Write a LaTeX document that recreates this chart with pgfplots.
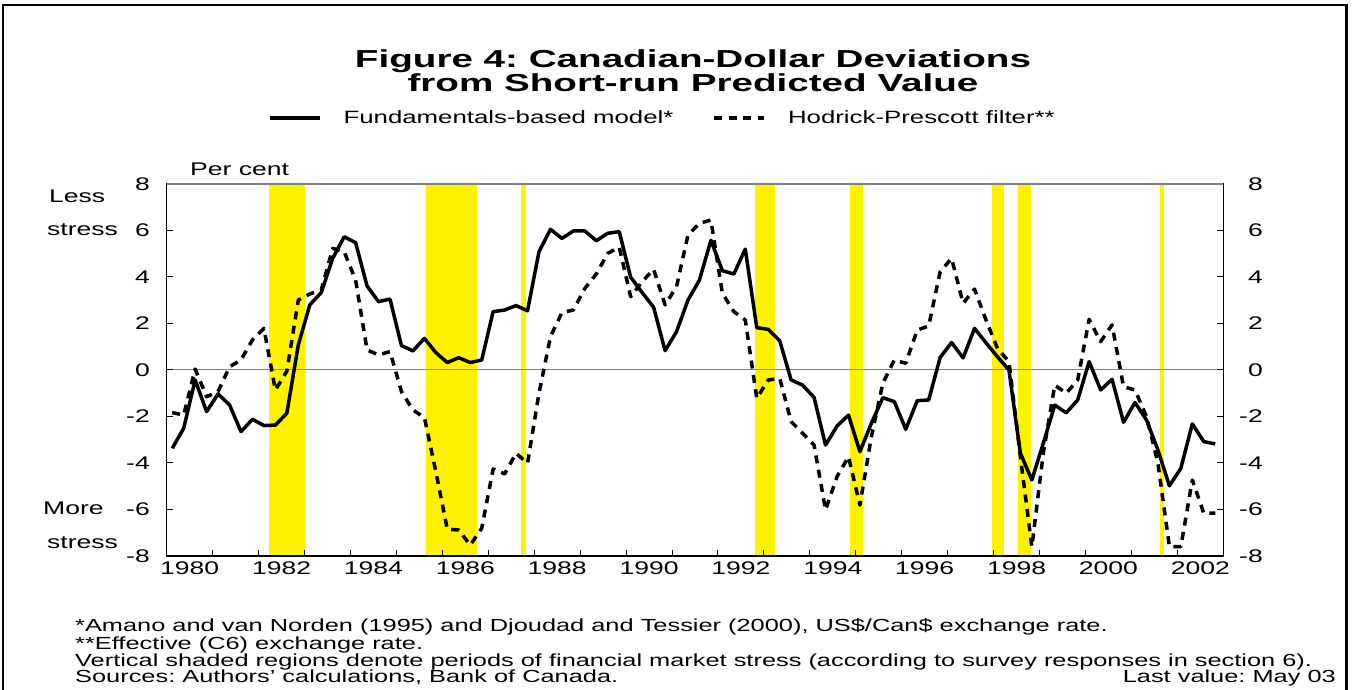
\documentclass[border=0pt]{standalone}
\usepackage{fontspec}
\setmainfont{Liberation Sans}[FakeStretch=1.45]
\newfontfamily\titlefont{Liberation Sans}[FakeStretch=1.57]
\usepackage{pgfplots}
\usepackage{pgfplotstable}
\pgfplotsset{compat=1.18}
\newcommand\ticksize{\fontsize{18.3}{20}\selectfont}
\newcommand\legsize{\fontsize{17.8}{20}\selectfont}
\newcommand\notesize{\fontsize{17.5}{17}\selectfont}
\newcommand\titlesize{\titlefont\fontsize{24.6}{22}\selectfont\bfseries}
\frenchspacing

\pgfplotstableread{
x f h
1980.120 -3.37 -1.83
1980.370 -2.51 -1.94
1980.619 -0.43 0.04
1980.869 -1.79 -1.15
1981.118 -1.03 -0.93
1981.368 -1.50 0.14
1981.617 -2.65 0.43
1981.867 -2.12 1.30
1982.116 -2.39 1.79
1982.366 -2.37 -0.86
1982.615 -1.86 -0.05
1982.865 1.08 3.01
1983.114 2.80 3.27
1983.364 3.33 3.44
1983.613 4.80 5.23
1983.863 5.73 5.09
1984.112 5.48 3.87
1984.362 3.61 0.86
1984.611 2.94 0.65
1984.861 3.05 0.79
1985.110 1.05 -0.93
1985.360 0.82 -1.72
1985.609 1.36 -2.04
1985.859 0.75 -4.37
1986.108 0.32 -6.85
1986.358 0.53 -6.88
1986.607 0.32 -7.53
1986.857 0.43 -6.81
1987.106 2.51 -4.26
1987.356 2.58 -4.47
1987.605 2.77 -3.58
1987.855 2.55 -4.01
1988.104 5.09 -1.00
1988.354 6.05 1.43
1988.603 5.66 2.47
1988.853 5.98 2.58
1989.102 5.98 3.51
1989.352 5.56 4.13
1989.601 5.88 5.02
1989.851 5.95 5.28
1990.100 3.99 3.15
1990.350 3.33 3.80
1990.599 2.70 4.33
1990.849 0.83 2.80
1991.098 1.65 3.58
1991.348 3.01 5.81
1991.597 3.87 6.31
1991.847 5.58 6.45
1992.096 4.27 3.30
1992.346 4.13 2.51
1992.595 5.20 2.15
1992.845 1.82 -1.22
1993.094 1.75 -0.43
1993.344 1.26 -0.36
1993.593 -0.43 -2.22
1993.843 -0.65 -2.72
1994.092 -1.18 -3.23
1994.342 -3.23 -6.02
1994.591 -2.41 -4.59
1994.841 -1.94 -3.73
1995.090 -3.51 -5.81
1995.340 -2.29 -2.87
1995.589 -1.19 -0.57
1995.839 -1.36 0.43
1996.088 -2.55 0.29
1996.338 -1.32 1.72
1996.587 -1.29 1.89
1996.837 0.54 4.23
1997.086 1.18 4.80
1997.336 0.52 2.87
1997.585 1.79 3.48
1997.835 1.17 2.15
1998.084 0.57 0.93
1998.334 0.00 0.36
1998.583 -3.58 -3.73
1998.833 -4.73 -7.60
1999.082 -3.15 -3.58
1999.332 -1.51 -0.65
1999.581 -1.84 -1.00
1999.831 -1.29 -0.43
2000.080 0.36 2.18
2000.330 -0.86 1.22
2000.579 -0.40 1.94
2000.829 -2.25 -0.72
2001.078 -1.40 -0.86
2001.328 -2.15 -2.00
2001.577 -3.44 -4.00
2001.827 -4.98 -7.60
2002.076 -4.23 -7.60
2002.326 -2.32 -4.73
2002.575 -3.08 -6.16
2002.825 -3.18 -6.16
}\datatable

\begin{document}
\begin{tikzpicture}[x=1pt,y=1pt]
\path[use as bounding box] (0,0) rectangle (1354,690);
\draw[line width=2.3pt] (2.8,-5) rectangle (1346.5,684.7);

\begin{axis}[
  name=main,
  at={(166.7pt,134pt)}, anchor=south west,
  width=1056.6pt, height=372pt, scale only axis,
  xmin=1980, xmax=2003, ymin=-8, ymax=8,
  axis on top,
  axis line style={line width=1.2pt, black},
  tick style={line width=1pt, black},
  tick align=inside, major tick length=6pt,
  xtick pos=bottom,
  xtick={1981,1982,1983,1984,1985,1986,1987,1988,1989,1990,1991,1992,1993,1994,1995,1996,1997,1998,1999,2000,2001,2002},
  xticklabels={},
  extra x ticks={1980.5,1982.5,1984.5,1986.5,1988.5,1990.5,1992.5,1994.5,1996.5,1998.5,2000.5,2002.5},
  extra x tick labels={1980,1982,1984,1986,1988,1990,1992,1994,1996,1998,2000,2002},
  extra x tick style={major tick length=0pt},
  xticklabel style={font=\ticksize, inner sep=0pt, yshift=-5.7pt},
  ytick={-8,-6,-4,-2,0,2,4,6,8},
  yticklabels={-8,-6,-4,-2,0,2,4,6,8},
  yticklabel style={font=\ticksize, inner sep=0pt, xshift=-16.7pt},
  legend columns=2,
  legend style={at={(0.059,1.1774)}, anchor=west, draw=none, fill=none,
    inner sep=0pt, outer sep=0pt, font=\legsize, column sep=0pt, row sep=0pt,
    nodes={inner sep=0pt, anchor=west}},
  legend image code/.code={\path (-39pt,0pt) (72pt,0pt); \draw[#1] (0pt,0pt) -- (50pt,0pt);},
]
% shaded stress periods
\addplot[fill=yellow, draw=none, forget plot] coordinates {(1982.23,-8) (1982.23,8) (1983.00,8) (1983.00,-8)};
\addplot[fill=yellow, draw=none, forget plot] coordinates {(1985.65,-8) (1985.65,8) (1986.75,8) (1986.75,-8)};
\addplot[fill=yellow, draw=none, forget plot] coordinates {(1987.72,-8) (1987.72,8) (1987.83,8) (1987.83,-8)};
\addplot[fill=yellow, draw=none, forget plot] coordinates {(1992.80,-8) (1992.80,8) (1993.25,8) (1993.25,-8)};
\addplot[fill=yellow, draw=none, forget plot] coordinates {(1994.88,-8) (1994.88,8) (1995.16,8) (1995.16,-8)};
\addplot[fill=yellow, draw=none, forget plot] coordinates {(1997.97,-8) (1997.97,8) (1998.23,8) (1998.23,-8)};
\addplot[fill=yellow, draw=none, forget plot] coordinates {(1998.53,-8) (1998.53,8) (1998.81,8) (1998.81,-8)};
\addplot[fill=yellow, draw=none, forget plot] coordinates {(2001.62,-8) (2001.62,8) (2001.72,8) (2001.72,-8)};
% zero line
\addplot[gray, line width=1pt, forget plot] coordinates {(1980,0) (2003,0)};
% series
\addplot[black, line width=3.5pt, line join=round] table[x=x, y=f] {\datatable};
\addlegendentry{Fundamentals-based model*}
\addplot[black, line width=3.5pt, dash pattern=on 8pt off 6.5pt, line join=round] table[x=x, y=h] {\datatable};
\addlegendentry{Hodrick-Prescott filter**}
\end{axis}

\begin{axis}[
  at={(166.7pt,134pt)}, anchor=south west,
  width=1056.6pt, height=372pt, scale only axis,
  xmin=1980, xmax=2003, ymin=-8, ymax=8,
  axis x line=none, axis y line*=right,
  axis line style={draw=none},
  major tick length=0pt,
  ytick={-8,-6,-4,-2,0,2,4,6,8},
  yticklabels={-8,-6,-4,-2,0,2,4,6,8},
  yticklabel style={font=\ticksize, inner sep=0pt, anchor=east, xshift=39.7pt},
]
\addplot[draw=none] coordinates {(1990,0)};
\end{axis}

\draw[gray, line width=1.4pt] (main.north west) -- (main.north east);

% titles and labels
\node[anchor=base, inner sep=0pt, font=\titlesize] at (693,622.3) {Figure 4: Canadian-Dollar Deviations};
\node[anchor=base, inner sep=0pt, font=\titlesize] at (693,598.3) {from Short-run Predicted Value};
\node[anchor=base west, inner sep=0pt, font=\ticksize] at (190,514) {Per cent};
\node[anchor=base west, inner sep=0pt, font=\ticksize] at (49,487.5) {Less};
\node[anchor=base west, inner sep=0pt, font=\ticksize] at (47,454) {stress};
\node[anchor=base west, inner sep=0pt, font=\ticksize] at (43,175) {More};
\node[anchor=base west, inner sep=0pt, font=\ticksize] at (47,141) {stress};
% notes
\node[anchor=base west, inner sep=0pt, font=\notesize] at (75,58) {*Amano and van Norden (1995) and Djoudad and Tessier (2000), US\$/Can\$ exchange rate.};
\node[anchor=base west, inner sep=0pt, font=\notesize] at (75,40.5) {**Effective (C6) exchange rate.};
\node[anchor=base west, inner sep=0pt, font=\notesize] at (75,23.5) {Vertical shaded regions denote periods of financial market stress (according to survey responses in section 6).};
\node[anchor=base west, inner sep=0pt, font=\notesize] at (75,7) {Sources: Authors’ calculations, Bank of Canada.};
\node[anchor=base east, inner sep=0pt, font=\notesize] at (1336,7) {Last value: May 03};
\end{tikzpicture}
\end{document}
